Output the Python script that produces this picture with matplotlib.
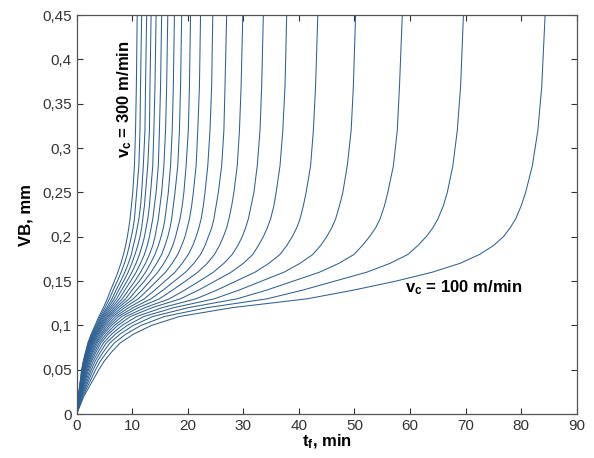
import matplotlib
matplotlib.use('Agg')
import matplotlib.pyplot as plt

plt.rcParams['font.family'] = ['Liberation Sans', 'DejaVu Sans']
plt.rcParams['mathtext.fontset'] = 'custom'
plt.rcParams['mathtext.rm'] = 'Liberation Sans'
plt.rcParams['mathtext.bf'] = 'Liberation Sans:bold'

# flank wear levels (mm) at which each curve's time was read
vb_levels = [0, 0.02, 0.04, 0.05, 0.06, 0.07, 0.08, 0.09, 0.10, 0.11, 0.12, 0.13, 0.14,
             0.15, 0.16, 0.17, 0.18, 0.19, 0.20, 0.21, 0.22, 0.235, 0.25, 0.28, 0.32, 0.37, 0.45]

# cutting speeds, m/min
speeds = [100, 110, 120, 130, 140, 150, 160, 170, 180, 190, 200,
          210, 220, 230, 240, 250, 260, 270, 280, 290, 300]

# time (min) to reach each wear level, one row per speed
t_100 = [0, 1.30, 3.10, 4.00, 5.00, 6.30, 7.80, 10.2, 13.5, 18.5, 28.0, 41.5, 50.0, 57.5, 64.0, 69.0, 72.5, 75.0, 76.8, 78.0, 79.0, 80.0, 80.8, 82.0, 83.0, 83.7, 84.3]
t_110 = [0, 1.11, 2.66, 3.42, 4.30, 5.45, 6.76, 8.83, 11.6, 15.8, 23.5, 34.3, 40.8, 46.5, 52.2, 56.4, 59.6, 61.4, 62.9, 64.1, 65.0, 66.0, 66.7, 67.7, 68.5, 69.1, 69.6]
t_120 = [0, 0.97, 2.32, 2.98, 3.77, 4.80, 5.96, 7.78, 10.2, 13.7, 20.1, 28.9, 34.3, 39.0, 43.7, 47.2, 49.9, 51.4, 52.7, 53.8, 54.6, 55.4, 56.0, 57.0, 57.7, 58.1, 58.6]
t_130 = [0, 0.86, 2.06, 2.64, 3.36, 4.29, 5.33, 6.96, 9.12, 12.1, 17.5, 24.8, 29.3, 33.3, 37.3, 40.2, 42.5, 43.9, 45.0, 45.9, 46.6, 47.3, 47.9, 48.7, 49.4, 49.8, 50.2]
t_140 = [0, 0.77, 1.84, 2.36, 3.01, 3.87, 4.81, 6.28, 8.19, 10.8, 15.4, 21.5, 25.3, 28.7, 32.1, 34.6, 36.6, 37.8, 38.8, 39.6, 40.2, 40.8, 41.3, 42.1, 42.6, 43.0, 43.4]
t_150 = [0, 0.70, 1.65, 2.12, 2.72, 3.51, 4.36, 5.69, 7.41, 9.69, 13.6, 18.7, 22.0, 24.9, 27.8, 30.0, 31.7, 32.7, 33.6, 34.3, 34.9, 35.5, 35.9, 36.6, 37.1, 37.5, 37.8]
t_160 = [0, 0.64, 1.52, 1.95, 2.50, 3.24, 4.03, 5.26, 6.83, 8.86, 12.3, 16.7, 19.5, 22.1, 24.6, 26.5, 28.0, 29.0, 29.8, 30.4, 30.9, 31.4, 31.9, 32.5, 33.0, 33.3, 33.6]
t_170 = [0, 0.59, 1.39, 1.79, 2.30, 2.99, 3.72, 4.85, 6.29, 8.11, 11.1, 14.9, 17.3, 19.6, 21.8, 23.5, 24.8, 25.7, 26.4, 27.0, 27.4, 27.9, 28.3, 28.9, 29.3, 29.6, 29.9]
t_180 = [0, 0.55, 1.29, 1.66, 2.15, 2.80, 3.49, 4.54, 5.88, 7.52, 10.2, 13.4, 15.6, 17.6, 19.6, 21.1, 22.3, 23.1, 23.7, 24.3, 24.7, 25.1, 25.5, 26.1, 26.5, 26.7, 27.0]
t_190 = [0, 0.51, 1.21, 1.55, 2.01, 2.63, 3.28, 4.27, 5.51, 7.01, 9.35, 12.2, 14.1, 15.9, 17.7, 19.0, 20.1, 20.9, 21.5, 22.0, 22.4, 22.8, 23.1, 23.6, 24.0, 24.3, 24.5]
t_200 = [0, 0.48, 1.13, 1.45, 1.89, 2.47, 3.08, 4.01, 5.17, 6.55, 8.63, 11.1, 12.8, 14.4, 16.0, 17.2, 18.2, 18.9, 19.5, 19.9, 20.3, 20.7, 21.0, 21.5, 21.8, 22.1, 22.3]
t_210 = [0, 0.45, 1.07, 1.37, 1.79, 2.35, 2.93, 3.81, 4.90, 6.17, 8.05, 10.2, 11.8, 13.2, 14.6, 15.7, 16.6, 17.3, 17.8, 18.2, 18.6, 19.0, 19.3, 19.7, 20.1, 20.3, 20.5]
t_220 = [0, 0.43, 1.01, 1.30, 1.70, 2.23, 2.79, 3.63, 4.66, 5.83, 7.52, 9.46, 10.8, 12.2, 13.4, 14.4, 15.3, 15.9, 16.4, 16.8, 17.1, 17.4, 17.7, 18.2, 18.5, 18.7, 18.9]
t_230 = [0, 0.41, 0.96, 1.24, 1.62, 2.14, 2.67, 3.48, 4.46, 5.56, 7.10, 8.82, 10.0, 11.3, 12.4, 13.3, 14.1, 14.7, 15.2, 15.6, 15.9, 16.2, 16.5, 16.9, 17.2, 17.4, 17.6]
t_240 = [0, 0.39, 0.92, 1.18, 1.55, 2.06, 2.57, 3.34, 4.28, 5.30, 6.71, 8.23, 9.34, 10.5, 11.5, 12.4, 13.1, 13.7, 14.1, 14.4, 14.7, 15.0, 15.3, 15.7, 16.0, 16.2, 16.4]
t_250 = [0, 0.38, 0.88, 1.13, 1.49, 1.97, 2.47, 3.21, 4.10, 5.06, 6.34, 7.69, 8.69, 9.73, 10.7, 11.5, 12.2, 12.7, 13.1, 13.4, 13.7, 14.0, 14.3, 14.7, 14.9, 15.1, 15.3]
t_260 = [0, 0.36, 0.84, 1.08, 1.43, 1.90, 2.37, 3.08, 3.94, 4.84, 6.01, 7.20, 8.11, 9.07, 9.94, 10.7, 11.3, 11.8, 12.2, 12.5, 12.8, 13.1, 13.3, 13.7, 13.9, 14.1, 14.3]
t_270 = [0, 0.35, 0.81, 1.04, 1.37, 1.82, 2.28, 2.97, 3.78, 4.63, 5.70, 6.75, 7.58, 8.47, 9.27, 9.93, 10.5, 11.0, 11.4, 11.7, 11.9, 12.2, 12.4, 12.8, 13.1, 13.2, 13.4]
t_280 = [0, 0.33, 0.78, 1.00, 1.32, 1.76, 2.20, 2.86, 3.65, 4.45, 5.43, 6.36, 7.11, 7.93, 8.67, 9.31, 9.85, 10.2, 10.6, 10.9, 11.2, 11.5, 11.7, 12.0, 12.3, 12.4, 12.6]
t_290 = [0, 0.32, 0.74, 0.95, 1.26, 1.68, 2.10, 2.73, 3.47, 4.22, 5.11, 5.91, 6.59, 7.34, 8.01, 8.60, 9.10, 9.49, 9.84, 10.15, 10.4, 10.6, 10.8, 11.2, 11.4, 11.5, 11.7]
t_300 = [0, 0.30, 0.70, 0.90, 1.20, 1.60, 2.01, 2.61, 3.31, 4.01, 4.82, 5.52, 6.13, 6.81, 7.42, 7.96, 8.43, 8.81, 9.13, 9.39, 9.61, 9.86, 10.1, 10.4, 10.6, 10.75, 10.9]

curves = [t_100, t_110, t_120, t_130, t_140, t_150, t_160, t_170, t_180, t_190, t_200,
          t_210, t_220, t_230, t_240, t_250, t_260, t_270, t_280, t_290, t_300]

x_ticks = [0, 10, 20, 30, 40, 50, 60, 70, 80, 90]
y_ticks = [0, 0.05, 0.1, 0.15, 0.2, 0.25, 0.3, 0.35, 0.4, 0.45]
y_labels = ['0', '0,05', '0,1', '0,15', '0,2', '0,25', '0,3', '0,35', '0,4', '0,45']

fig = plt.figure(figsize=(5.94, 4.58), dpi=100)
ax = fig.add_axes([0.129, 0.096, 0.842, 0.871])

for speed, t in zip(speeds, curves):
    ax.plot(t, vb_levels, color='#2f6092', lw=0.75)

ax.set_xlim(0, 90)
ax.set_ylim(0, 0.45)
ax.set_xticks(x_ticks)
ax.set_yticks(y_ticks)
ax.set_yticklabels(y_labels)
ax.tick_params(direction='in', top=True, right=True, labelsize=11,
               colors='#333333', length=4, width=0.8)
for s in ax.spines.values():
    s.set_color('#555555')
    s.set_linewidth(0.9)

ax.set_xlabel(r'$\mathbf{t_f}$, min', fontsize=12, fontweight='bold', labelpad=0)
ax.set_ylabel('VB, mm', fontsize=12, fontweight='bold', labelpad=6)

ax.text(59.0, 0.143, r'$\mathbf{v_c}$ = 100 m/min', fontsize=12,
        fontweight='bold', va='center', ha='left')
ax.text(8.6, 0.355, r'$\mathbf{v_c}$ = 300 m/min', fontsize=12,
        fontweight='bold', va='center', ha='center', rotation=90)

fig.savefig('out.png', dpi=100)
